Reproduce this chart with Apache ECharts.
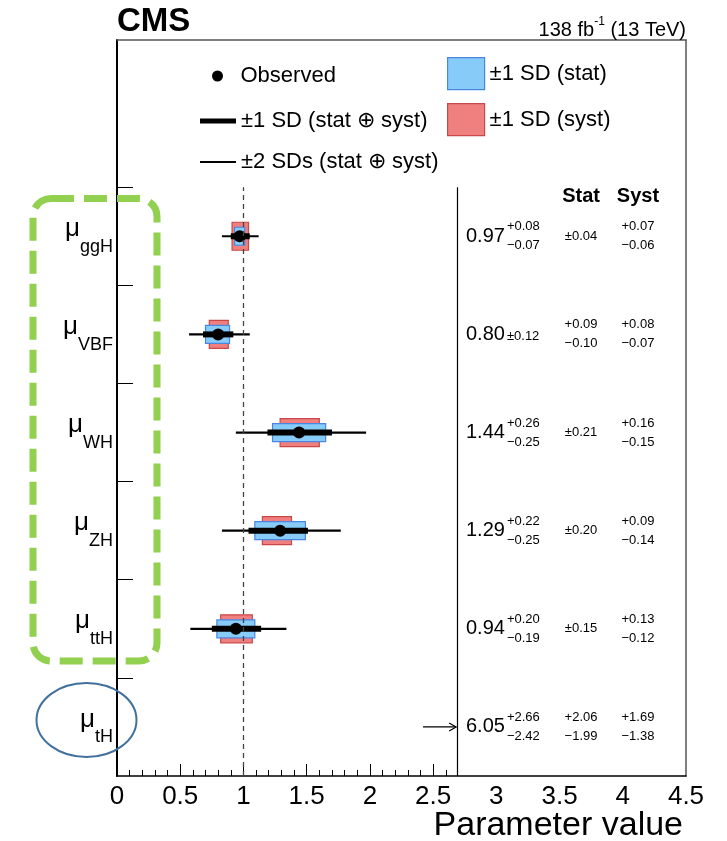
<!DOCTYPE html>
<html>
<head>
<meta charset="utf-8">
<title>Signal strength modifiers</title>
<script src="https://cdn.jsdelivr.net/npm/echarts@6/dist/echarts.min.js"></script>
<style>
  html, body { margin: 0; padding: 0; background: #fff; }
  #chart { width: 727px; height: 841px; }
</style>
</head>
<body>
<div id="chart"></div>
<script>
// ---- measured signal strengths (best fit and uncertainties) ----
const categories = ['ggH', 'VBF', 'WH', 'ZH', 'ttH', 'tH'];
const observed   = [0.97, 0.80, 1.44, 1.29, 0.94, 6.05];
const totalUp    = [0.08, 0.12, 0.26, 0.22, 0.20, 2.66];
const totalDown  = [0.07, 0.12, 0.25, 0.25, 0.19, 2.42];
const statUp     = [0.04, 0.09, 0.21, 0.20, 0.15, 2.06];
const statDown   = [0.04, 0.10, 0.21, 0.20, 0.15, 1.99];
const systUp     = [0.07, 0.08, 0.16, 0.09, 0.13, 1.69];
const systDown   = [0.06, 0.07, 0.15, 0.14, 0.12, 1.38];
// ±2 SD (stat ⊕ syst) interval edges
const twoSdLow   = [0.83, 0.57, 0.94, 0.83, 0.58, null];
const twoSdHigh  = [1.12, 1.05, 1.97, 1.77, 1.34, null];

// ---- axis ticks and labels ----
const xTickValues = [0, 0.5, 1, 1.5, 2, 2.5, 3, 3.5, 4, 4.5];
const xTickLabels = ['0', '0.5', '1', '1.5', '2', '2.5', '3', '3.5', '4', '4.5'];
const xMajorTicks = [0, 0.5, 1, 1.5, 2, 2.5];
const xMinorTicks = [0.1, 0.2, 0.3, 0.4, 0.6, 0.7, 0.8, 0.9, 1.1, 1.2, 1.3, 1.4,
                     1.6, 1.7, 1.8, 1.9, 2.1, 2.2, 2.3, 2.4, 2.6];
const yRowBoundaries = [1, 2, 3, 4, 5, 6];

// ---- layout (axis units) ----
const FONT = '"Liberation Sans", Arial, Helvetica, sans-serif';
const X_MAX = 4.5;
const Y_MAX = 7.5;
const SM_VALUE = 1;          // Standard Model expectation
const PANEL_EDGE = 2.69;     // right-hand text panel starts here
const ARROW_TAIL = 2.42;     // off-scale arrow start
const COL_VALUE = 2.76;
const COL_STAT = 3.67;
const COL_SYST = 4.12;
const HEADER_Y = 5.91;

const nRows = categories.length;
const rowY = i => nRows - i - 0.5;
const rowData = observed.map((v, i) => [v, rowY(i), i]);

const measureCtx = document.createElement('canvas').getContext('2d');
function textWidth(str, font) { measureCtx.font = font; return measureCtx.measureText(str).width; }
const fmt = v => v.toFixed(2);
const MINUS = '\u2212';

const chart = echarts.init(document.getElementById('chart'), null, { renderer: 'canvas' });

function boxRenderer(up, down, halfH, fill, stroke) {
  return function (params, api) {
    const i = api.value(2);
    const v = observed[i];
    if (v > PANEL_EDGE) return null;
    const p0 = api.coord([v - down[i], rowY(i)]);
    const p1 = api.coord([v + up[i], rowY(i)]);
    return {
      type: 'rect',
      shape: { x: p0[0], y: p0[1] - halfH, width: p1[0] - p0[0], height: 2 * halfH },
      style: { fill: fill, stroke: stroke, lineWidth: 1.2 }
    };
  };
}

function rangeLineRenderer(lowFn, highFn, width) {
  return function (params, api) {
    const i = api.value(2);
    if (observed[i] > PANEL_EDGE) return null;
    const lo = lowFn(i), hi = highFn(i);
    if (lo == null || hi == null) return null;
    const p0 = api.coord([lo, rowY(i)]);
    const p1 = api.coord([hi, rowY(i)]);
    return {
      type: 'line',
      shape: { x1: p0[0], y1: p0[1], x2: p1[0], y2: p1[1] },
      style: { stroke: '#000', lineWidth: width, lineCap: 'butt' }
    };
  };
}

function observedRenderer(params, api) {
  const i = api.value(2);
  const v = observed[i];
  if (v > PANEL_EDGE) {
    // value lies beyond the plotted range: arrow pointing to the panel edge
    const a = api.coord([ARROW_TAIL, rowY(i)]);
    const b = api.coord([PANEL_EDGE, rowY(i)]);
    return {
      type: 'group',
      children: [
        { type: 'line', shape: { x1: a[0], y1: a[1], x2: b[0] - 1, y2: b[1] },
          style: { stroke: '#000', lineWidth: 1.2 } },
        { type: 'polyline', shape: { points: [[b[0] - 8, b[1] - 4], [b[0] - 1, b[1]], [b[0] - 8, b[1] + 4]] },
          style: { stroke: '#000', lineWidth: 1.2, fill: 'none' } }
      ]
    };
  }
  const p = api.coord([v, rowY(i)]);
  return { type: 'circle', shape: { cx: p[0], cy: p[1], r: 6 }, style: { fill: '#000' } };
}

function pushPair(children, x, y, up, down, align, font) {
  if (up === down) {
    children.push({ type: 'text', x: x, y: y,
      style: { text: '\u00b1' + fmt(up), font: font, fill: '#000', align: align, verticalAlign: 'middle' } });
  } else {
    children.push({ type: 'text', x: x, y: y - 9.5,
      style: { text: '+' + fmt(up), font: font, fill: '#000', align: align, verticalAlign: 'middle' } });
    children.push({ type: 'text', x: x, y: y + 9.5,
      style: { text: MINUS + fmt(down), font: font, fill: '#000', align: align, verticalAlign: 'middle' } });
  }
}

function valueTextRenderer(params, api) {
  const i = api.value(2);
  const y = api.coord([0, rowY(i)])[1];
  const xv = api.coord([COL_VALUE, 0])[0];
  const xs = api.coord([COL_STAT, 0])[0];
  const xy = api.coord([COL_SYST, 0])[0];
  const mainFont = '20px ' + FONT;
  const smallFont = '13px ' + FONT;
  const mainStr = fmt(observed[i]);
  const children = [{ type: 'text', x: xv, y: y,
    style: { text: mainStr, font: mainFont, fill: '#000', align: 'left', verticalAlign: 'middle' } }];
  const xScript = xv + textWidth(mainStr, mainFont) + 2;
  if (totalUp[i] === totalDown[i]) {
    children.push({ type: 'text', x: xScript, y: y + 2,
      style: { text: '\u00b1' + fmt(totalUp[i]), font: smallFont, fill: '#000', align: 'left', verticalAlign: 'middle' } });
  } else {
    pushPair(children, xScript, y, totalUp[i], totalDown[i], 'left', smallFont);
  }
  pushPair(children, xs, y, statUp[i], statDown[i], 'center', smallFont);
  pushPair(children, xy, y, systUp[i], systDown[i], 'center', smallFont);
  return { type: 'group', children: children };
}

function headerRenderer(params, api) {
  const ps = api.coord([COL_STAT, HEADER_Y]);
  const py = api.coord([COL_SYST, HEADER_Y]);
  const font = 'bold 20px ' + FONT;
  return { type: 'group', children: [
    { type: 'text', x: ps[0], y: ps[1], style: { text: 'Stat', font: font, fill: '#000', align: 'center', verticalAlign: 'middle' } },
    { type: 'text', x: py[0], y: py[1], style: { text: 'Syst', font: font, fill: '#000', align: 'center', verticalAlign: 'middle' } }
  ] };
}

const NAME_SYST = '\u00b11 SD (syst)';
const NAME_STAT = '\u00b11 SD (stat)';
const NAME_TOT = '\u00b11 SD (stat \u2295 syst)';
const NAME_TWO = '\u00b12 SDs (stat \u2295 syst)';
const NAME_OBS = 'Observed';
const X_NAME = 'Parameter value';
const X_NAME_FONT_SIZE = 34;

const RED_FILL = '#f08080', RED_EDGE = '#c84848';
const BLUE_FILL = '#87cbf9', BLUE_EDGE = '#4a86e0';

const legendText = { fontSize: 22, fontFamily: FONT, color: '#000' };
function legendOne(name, left, top, w, h, icon, itemStyle) {
  return {
    left: left, top: top, orient: 'vertical', padding: 0,
    itemWidth: w, itemHeight: h, itemGap: 0, selectedMode: false,
    textStyle: legendText,
    data: [{ name: name, icon: icon, itemStyle: itemStyle }]
  };
}

const frameAxis = { show: true, onZero: false, lineStyle: { color: '#555', width: 1.5 } };

const option = {
  animation: false,
  backgroundColor: '#fff',
  title: [
    { text: 'CMS', left: 117, top: 5, padding: 0,
      textStyle: { fontSize: 33, fontWeight: 'bold', fontFamily: FONT, color: '#000' } },
    { text: '{a|138 fb}{s|-1}{a| (13 TeV)}', right: 41, top: 16, padding: 0,
      textStyle: { fontWeight: 'normal', rich: {
        a: { fontSize: 20, fontWeight: 'normal', fontFamily: FONT, color: '#000', verticalAlign: 'bottom', lineHeight: 24 },
        s: { fontSize: 12, fontWeight: 'normal', fontFamily: FONT, color: '#000', verticalAlign: 'top', lineHeight: 24 }
      } } }
  ],
  legend: [
    legendOne(NAME_OBS, 212, 65, 36, 11, 'circle', { color: '#000' }),
    legendOne(NAME_TOT, 200, 110, 36, 5, 'rect', { color: '#000' }),
    legendOne(NAME_TWO, 200, 151, 36, 2, 'rect', { color: '#000' }),
    legendOne(NAME_STAT, 447, 57, 37, 32, 'rect', { color: BLUE_FILL, borderColor: BLUE_EDGE, borderWidth: 1.2 }),
    legendOne(NAME_SYST, 447, 103, 37, 32, 'rect', { color: RED_FILL, borderColor: RED_EDGE, borderWidth: 1.2 })
  ],
  grid: { left: 117, right: 41, top: 40, bottom: 65, containLabel: false, outerBoundsMode: 'none' },
  xAxis: [
    {
      type: 'value', position: 'bottom', min: 0, max: X_MAX, interval: 0.5,
      axisLine: { show: true, onZero: false, lineStyle: { color: '#000', width: 1.5 } },
      axisTick: { show: true, inside: true, length: 12, customValues: xMajorTicks, lineStyle: { color: '#000', width: 1 } },
      axisLabel: {
        customValues: xTickValues, margin: 8, fontSize: 26, fontFamily: FONT, color: '#000',
        formatter: v => { const k = xTickValues.findIndex(t => Math.abs(t - v) < 1e-9); return k >= 0 ? xTickLabels[k] : ''; }
      },
      splitLine: { show: false },
      name: X_NAME, nameLocation: 'end', nameMoveOverlap: false,
      nameGap: -3 - textWidth(X_NAME, X_NAME_FONT_SIZE + 'px ' + FONT),
      nameTextStyle: { fontSize: X_NAME_FONT_SIZE, fontFamily: FONT, color: '#000', align: 'left', verticalAlign: 'top', padding: [33, 0, 0, 0] }
    },
    {
      type: 'value', position: 'top', min: 0, max: X_MAX,
      axisLine: frameAxis,
      axisTick: { show: false }, axisLabel: { show: false }, splitLine: { show: false }
    },
    {
      type: 'value', position: 'bottom', min: 0, max: X_MAX,
      axisLine: { show: false, onZero: false },
      axisTick: { show: true, inside: true, length: 6, customValues: xMinorTicks, lineStyle: { color: '#000', width: 1 } },
      axisLabel: { show: false }, splitLine: { show: false }
    }
  ],
  yAxis: [
    {
      type: 'value', position: 'left', min: 0, max: Y_MAX,
      axisLine: { show: true, onZero: false, lineStyle: { color: '#000', width: 2 } },
      axisTick: { show: true, inside: true, length: 16, customValues: yRowBoundaries, lineStyle: { color: '#000', width: 1 } },
      axisLabel: {
        customValues: categories.map((c, i) => rowY(i)), margin: 4,
        verticalAlign: 'middle', padding: [0, 0, 15, 0],
        formatter: v => {
          const k = categories.findIndex((c, i) => Math.abs(rowY(i) - v) < 1e-9);
          return k >= 0 ? '{mu|\u03bc}{sub|' + categories[k] + '}' : '';
        },
        rich: {
          mu: { fontSize: 26, fontFamily: FONT, color: '#000', verticalAlign: 'top', lineHeight: 26 },
          sub: { fontSize: 18, fontFamily: FONT, color: '#000', verticalAlign: 'top', lineHeight: 18, padding: [22, 0, 0, 0] }
        }
      },
      splitLine: { show: false }
    },
    {
      type: 'value', position: 'right', min: 0, max: Y_MAX,
      axisLine: frameAxis,
      axisTick: { show: false }, axisLabel: { show: false }, splitLine: { show: false }
    }
  ],
  series: [
    {
      name: NAME_SYST, type: 'custom', itemStyle: { color: RED_FILL },
      encode: { x: 0, y: 1 }, data: rowData,
      renderItem: boxRenderer(systUp, systDown, 14, RED_FILL, RED_EDGE),
      markLine: {
        silent: true, symbol: 'none', label: { show: false },
        data: [
          [{ coord: [SM_VALUE, 0], lineStyle: { color: '#444', type: [5, 4], width: 1.3 } }, { coord: [SM_VALUE, yRowBoundaries[yRowBoundaries.length - 1]] }],
          [{ coord: [PANEL_EDGE, 0], lineStyle: { color: '#000', type: 'solid', width: 1.2 } }, { coord: [PANEL_EDGE, yRowBoundaries[yRowBoundaries.length - 1]] }]
        ]
      }
    },
    {
      name: NAME_STAT, type: 'custom', itemStyle: { color: BLUE_FILL },
      encode: { x: 0, y: 1 }, data: rowData,
      renderItem: boxRenderer(statUp, statDown, 9, BLUE_FILL, BLUE_EDGE)
    },
    {
      name: NAME_TWO, type: 'custom', itemStyle: { color: '#000' },
      encode: { x: 0, y: 1 }, data: rowData,
      renderItem: rangeLineRenderer(i => twoSdLow[i], i => twoSdHigh[i], 2.2)
    },
    {
      name: NAME_TOT, type: 'custom', itemStyle: { color: '#000' },
      encode: { x: 0, y: 1 }, data: rowData,
      renderItem: rangeLineRenderer(i => observed[i] - totalDown[i], i => observed[i] + totalUp[i], 6)
    },
    {
      name: NAME_OBS, type: 'custom', itemStyle: { color: '#000' }, clip: false,
      encode: { x: 0, y: 1 }, data: rowData,
      renderItem: observedRenderer
    },
    {
      name: 'values', type: 'custom', clip: false, silent: true,
      encode: { x: 0, y: 1 }, data: rowData,
      renderItem: valueTextRenderer
    },
    {
      name: 'headers', type: 'custom', clip: false, silent: true,
      data: [[COL_STAT, HEADER_Y]],
      renderItem: headerRenderer
    }
  ],
  graphic: [
    { type: 'rect', z: 100, silent: true,
      shape: { x: 33, y: 198.5, width: 124, height: 462.5, r: 18 },
      style: { fill: 'none', stroke: '#92d050', lineWidth: 7, lineDash: [23, 10] } },
    { type: 'ellipse', z: 100, silent: true,
      shape: { cx: 86.5, cy: 720, rx: 50, ry: 37 },
      style: { fill: 'none', stroke: '#41719c', lineWidth: 2 } }
  ]
};

chart.setOption(option);
</script>
</body>
</html>
